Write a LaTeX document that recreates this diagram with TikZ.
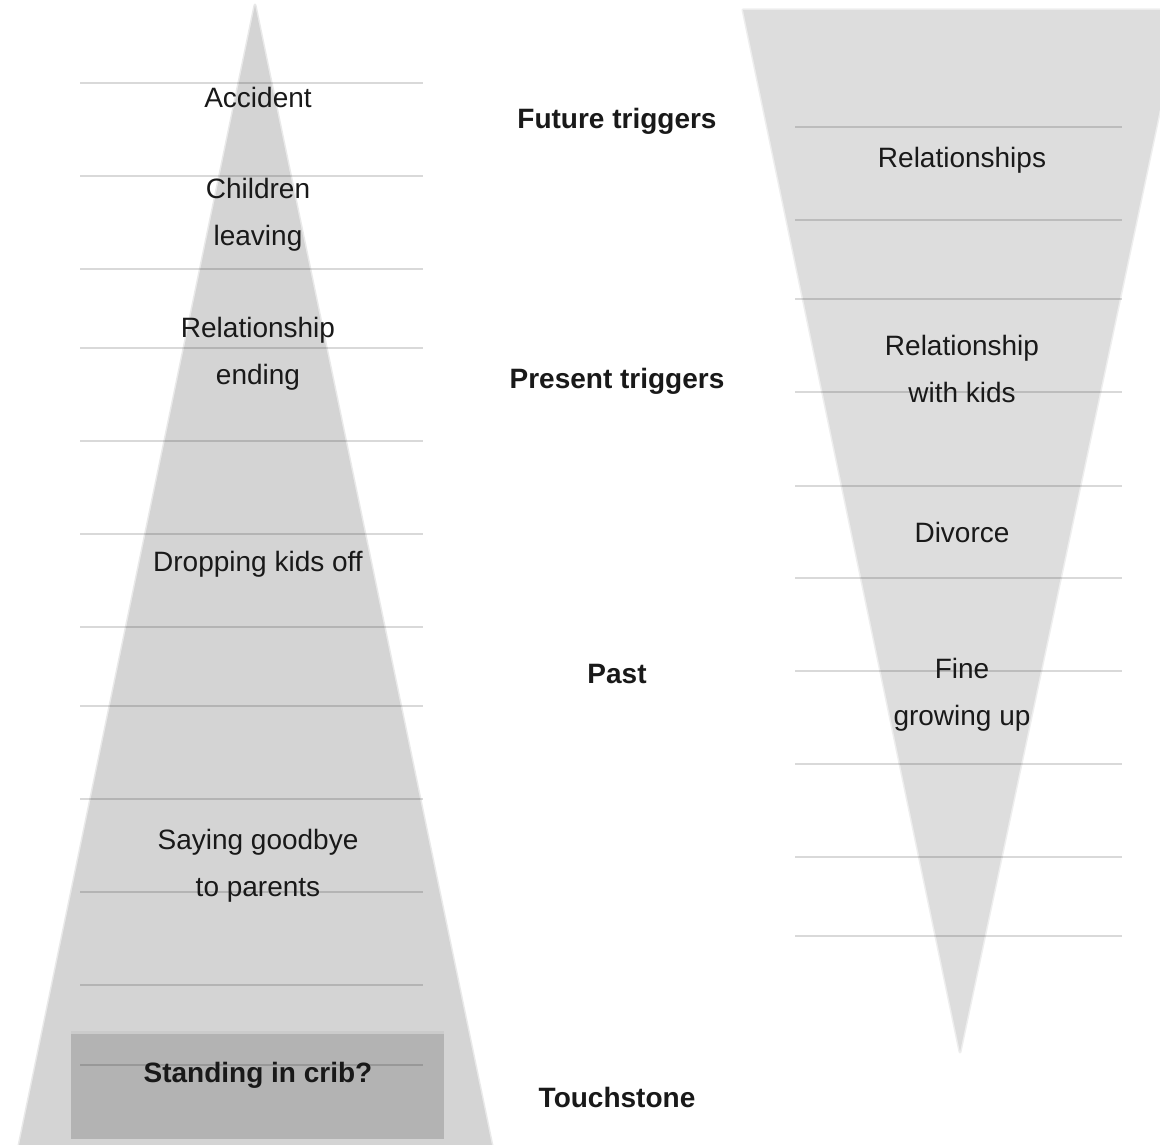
\documentclass[tikz,border=0pt]{standalone}
\usepackage{fontspec}
\setmainfont{Liberation Sans}
\definecolor{leftgray}{HTML}{D4D4D4}
\definecolor{rightgray}{HTML}{DDDDDD}
\definecolor{cribgray}{HTML}{B3B3B3}
\begin{document}
\begin{tikzpicture}[x=0.5pt, y=-0.5pt,
    lbl/.style = {font=\fontsize{14}{23.5}\selectfont, align=center, text=black!90},
    hdr/.style = {font=\bfseries\fontsize{14}{17}\selectfont, text=black!90},
    rule/.style = {draw=black, draw opacity=0.15, line width=0.6pt}]
    \clip (0,0) rectangle (1160,1144);
    % cones
    \draw[leftgray, line width=1.5pt, line join=round, opacity=0.5] (255,5) -- (495,1160) -- (16,1160) -- cycle;
    \fill[leftgray] (255,5) -- (495,1160) -- (16,1160) -- cycle;
    \draw[rightgray, line width=1.5pt, line join=round, opacity=0.5] (743,10) -- (1181,10) -- (960,1052) -- cycle;
    \fill[rightgray] (743,10) -- (1181,10) -- (960,1052) -- cycle;
    \fill[black, opacity=0.04] (71,1031) rectangle (444,1139);
    \fill[cribgray] (71,1034) rectangle (444,1139);
    % rules
    \foreach \y in {83,176,269,348,441,534,627,706,799,892,985,1065}
        \draw[rule] (80,\y) -- (423,\y);
    \foreach \y in {127,220,299,392,486,578,671,764,857,936}
        \draw[rule] (795,\y) -- (1122,\y);
    % left labels
    \node[lbl] (accident) at (258,97) {Accident};
    \node[lbl] (children) at (258,214.5) {Children\\leaving};
    \node[lbl] (ending) at (258,354) {Relationship\\ending};
    \node[lbl] (dropping) at (258,564) {Dropping kids off};
    \node[lbl] (goodbye) at (258,866) {Saying goodbye\\to parents};
    \node[hdr] (crib) at (258,1075) {Standing in crib?};
    % middle labels
    \node[hdr] (future) at (617,121) {Future triggers};
    \node[hdr] (present) at (617,381) {Present triggers};
    \node[hdr] (past) at (617,674) {Past};
    \node[hdr] (touch) at (617,1097) {Touchstone};
    % right labels
    \node[lbl] (rels) at (962,160) {Relationships};
    \node[lbl] (kids) at (962,369) {Relationship\\with kids};
    \node[lbl] (divorce) at (962,532) {Divorce};
    \node[lbl] (fine) at (962,694.5) {Fine\\growing up};
\end{tikzpicture}
\end{document}
